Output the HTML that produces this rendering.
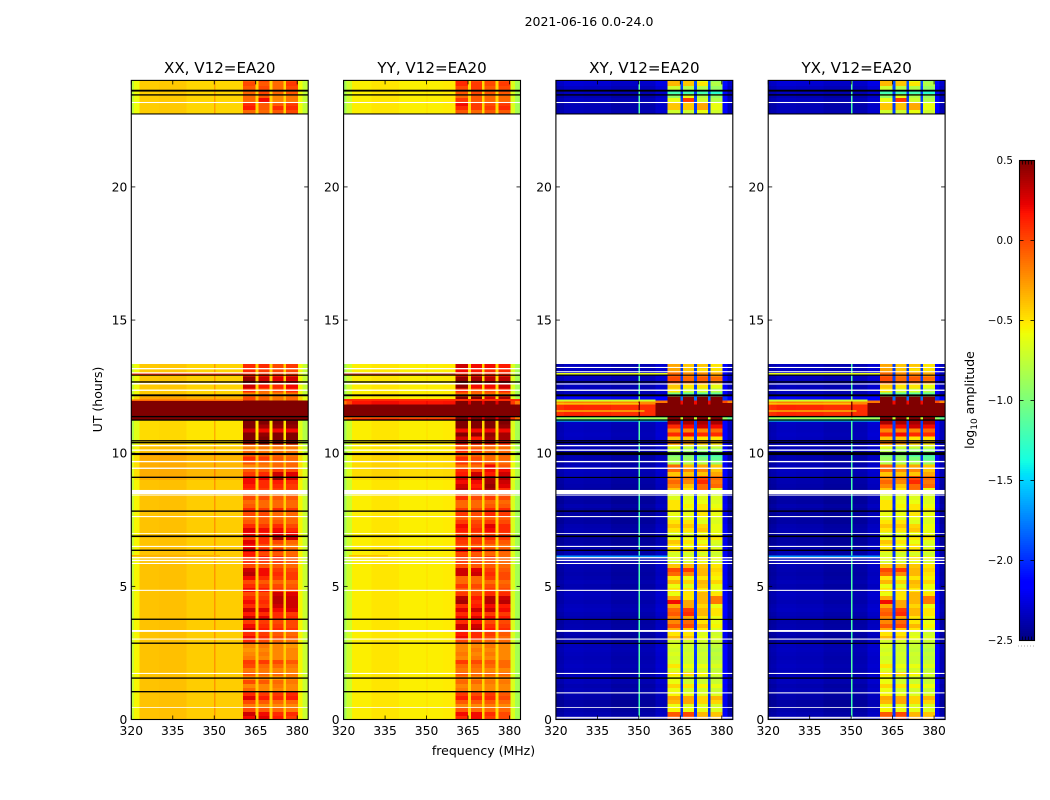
<!DOCTYPE html>
<html lang="en">
<head>
<meta charset="utf-8">
<title>2021-06-16 0.0-24.0</title>
<style>
html,body{margin:0;padding:0;background:#fff;}
svg{display:block;}
text{font-family:"DejaVu Sans","Liberation Sans",sans-serif;fill:#000;}
</style>
</head>
<body>
<svg id="figure" width="1050" height="800" viewBox="0 0 1050 800" xmlns="http://www.w3.org/2000/svg">
  <rect x="0" y="0" width="1050" height="800" fill="#ffffff"/>
  <text x="589" y="26" font-size="12.5" text-anchor="middle">2021-06-16 0.0-24.0</text>
  <text x="483.5" y="755" font-size="12.5" text-anchor="middle">frequency (MHz)</text>
  <text x="0" y="0" font-size="12.5" text-anchor="middle" transform="translate(102,399.5) rotate(-90)">UT (hours)</text>
  <text x="0" y="0" font-size="12.5" text-anchor="middle" transform="translate(974,400) rotate(-90)">log<tspan dy="3" font-size="9">10</tspan><tspan dy="-3"> amplitude</tspan></text>
  <g id="panels"></g>
  <g id="colorbar"></g>
</svg>
<script>
const freqTicks = [320,335,350,365,380];
const timeTicks = [0,5,10,15,20];
const colorTicks = [-2.5,-2,-1.5,-1,-0.5,0,0.5];
const colorTickLabels = ['\u22122.5','\u22122.0','\u22121.5','\u22121.0','\u22120.5','0.0','0.5'];
const freqEdges = [320,321,323,330,340,349.9,350.4,356,360.4,365,366,370,371,375,376,380.3,382,384];
const rowStarts = [
0,.15,.3,.45,.6,.75,.9,1.05,1.2,1.35,
1.5,1.65,1.8,1.95,2.1,2.25,2.4,2.55,2.7,2.85,
3,3.15,3.3,3.45,3.6,3.75,3.9,4.05,4.2,4.35,
4.5,4.65,4.8,4.95,5.1,5.25,5.4,5.55,5.7,5.85,
6,6.15,6.3,6.45,6.6,6.75,6.9,7.05,7.2,7.35,
7.5,7.65,7.8,7.95,8.1,8.25,8.4,8.55,8.7,8.85,
9,9.15,9.3,9.45,9.6,9.75,9.9,10.05,10.2,10.35,
10.5,10.65,10.8,10.95,11.1,11.25,11.4,11.55,11.7,11.85,
12,12.15,12.3,12.45,12.6,12.75,12.9,13.05,13.2,22.75,
22.9,23.05,23.2,23.35,23.5,23.65,23.8,23.95];

// Off-band levels per frequency column (null = one of the four signal bands)
const xxOffBand = [-.72,-.55,-.39,-.38,-.42,-.25,-.42,-.42,null,-.42,null,-.42,null,-.42,null,-.55,-.72];
const yyOffBand = [-.85,-.7,-.53,-.5,-.53,-.47,-.53,-.52,null,-.46,null,-.46,null,-.46,null,-.65,-.85];
const xyOffBand = [-2.44,-2.42,-2.38,-2.39,-2.42,-1.2,-2.41,-2.34,null,-2,null,-2,null,-2,null,-2.2,-2.4];
const yxOffBand = [-2.44,-2.42,-2.38,-2.39,-2.42,-1.2,-2.41,-2.34,null,-2,null,-2,null,-2,null,-2.2,-2.4];

const xxLevel = [
0,0,0,0,0,0,0,0,0,0,
0,0,0,0,0,0,0,0,0,0,
0,0,0,0,0,0,0,0,0,0,
0,0,0,0,0,0,0,0,0,0,
0,0,0,0,0,0,0,0,0,0,
0,0,0,0,0,0,0,0,0,0,
.07,.07,.07,.07,.07,.07,.07,0,0,-.08,
-.08,-.08,-.08,-.08,-.08,1.4,1.4,1.4,1.4,1.4,
.1,-.02,-.02,-.02,-.02,-.02,-.02,-.02,-.02,-.03,
-.03,-.03,-.03,-.03,-.03,-.03,-.03,-.03];
const yyLevel = [
0,0,0,0,0,0,0,0,0,0,
0,0,0,0,0,0,0,0,0,0,
0,0,0,0,0,0,0,0,0,0,
0,0,0,0,0,0,0,0,0,0,
0,0,0,0,0,0,0,0,0,0,
0,0,0,0,0,0,0,0,0,0,
.06,.06,.06,.06,.06,.06,.06,0,0,0,
0,0,0,0,0,.7,1.5,1.5,1.5,.7,
0,0,0,0,0,0,0,0,0,0,
0,0,0,0,0,0,0,0];
const xyLevel = [
.02,.02,0,-.02,-.02,0,.01,.03,.01,.04,
.05,.03,.04,.05,.04,.03,.04,.05,.04,0,
-.02,.01,.02,.01,0,.01,.03,.05,.04,.02,
.04,.05,.02,.01,.03,.01,0,.01,.02,.04,
.02,.01,.02,0,-.02,-.02,.01,.02,.01,-.02,
-.02,-.02,-.02,.01,-.02,-.02,-.02,-.02,0,.01,
.02,.04,.05,.04,.01,.01,.02,.02,.02,.04,
.05,.06,.05,.05,.06,1.3,2.5,2.5,2.5,2.2,
.2,.05,.04,.05,.06,.05,.06,.05,.05,.05,
.03,.03,.05,.02,.04,.06,.1,.12];
const yxLevel = xyLevel.slice();

const xxBand1 = [
.2,.3,0,-.15,0,.25,.1,-.1,-.2,0,
-.2,-.05,-.15,0,.05,-.15,-.2,-.25,-.2,.1,
.2,.1,.3,.2,.05,.3,.15,.3,.1,.2,
.1,0,.2,.1,0,.2,.35,.3,0,.1,
.1,.15,.3,.2,.25,.05,.2,.25,.1,-.05,
-.1,0,.1,-.05,-.1,0,-.1,.1,.15,.2,
.2,.05,-.05,-.2,-.05,.1,-.1,-.1,-.2,.4,
.5,.5,.3,.5,.5,.6,.6,.6,.6,.6,
0,-.2,.1,.3,.45,.45,.1,.1,.1,-.1,
.15,.1,-.1,-.1,-.1,-.05,0,-.05];
const xxBand2 = [
.25,.2,-.05,-.2,-.05,.15,.05,-.2,-.2,-.05,
-.2,-.1,-.15,-.1,.05,-.2,-.15,-.2,-.15,0,
.1,.05,.15,.1,.05,.25,.1,.25,.05,.1,
.05,0,.15,.05,-.05,.1,.2,.2,-.05,.05,
.15,0,.1,0,.1,.1,.15,.2,.05,-.05,
-.05,0,.05,-.1,-.1,0,-.1,.05,.1,.1,
.25,.1,-.05,-.15,-.1,.05,-.1,-.15,-.15,.5,
.5,.45,.2,.4,.5,.6,.6,.6,.6,.6,
-.1,-.15,-.1,.15,.3,.3,.1,.05,.1,-.1,
-.05,-.05,.2,-.05,0,0,-.05,0];
const xxBand3 = [
.15,.1,-.1,-.2,-.1,.1,.05,-.2,-.15,-.1,
-.25,-.1,-.2,-.1,0,-.2,-.2,-.2,-.2,-.1,
0,-.05,.1,.05,0,.1,.1,.2,.3,.35,
.35,.3,.05,0,-.1,.05,.1,.05,-.05,.05,
.1,-.05,.05,-.1,0,.4,.25,.2,.1,-.05,
-.1,-.1,.1,-.1,-.1,-.05,-.15,.05,.1,.15,
.45,.3,.05,-.1,-.1,-.05,-.1,-.15,-.15,.45,
.5,.5,.2,.45,.5,.6,.6,.6,.6,.6,
-.15,-.2,0,.1,.2,.25,.05,0,0,-.05,
.1,-.05,-.2,-.2,-.1,-.1,-.1,-.1];
const xxBand4 = [
.05,.1,-.15,-.2,-.1,.15,.1,-.2,-.2,-.15,
-.2,-.15,-.2,-.15,-.05,-.2,-.2,-.2,-.25,-.15,
-.05,-.1,.05,0,0,.1,.05,.25,.3,.3,
.3,.25,0,-.05,-.1,.05,.05,0,-.1,-.05,
-.05,-.1,-.1,-.15,-.1,.3,.2,.1,0,-.1,
-.1,-.1,.05,-.1,-.1,-.05,-.1,.05,.05,.1,
.3,.25,0,-.1,-.1,-.1,-.15,-.15,-.15,.45,
.5,.5,.2,.45,.5,.6,.6,.6,.6,.6,
-.1,-.15,.1,.2,.2,.3,.05,0,.05,0,
.1,.05,-.15,-.15,-.05,0,.05,0];

const yyBand1 = [
.1,.2,-.05,-.2,-.05,.15,.05,-.15,-.2,-.1,
-.15,-.05,-.15,-.1,.05,-.2,-.15,-.2,-.2,0,
.2,.15,.3,.3,.1,.2,.1,.25,.1,.4,
.35,.05,-.05,.05,-.1,-.1,.3,.3,0,.05,
.05,0,.2,0,.05,.1,.05,.15,.2,.05,
-.05,.05,.05,-.1,-.1,.1,-.05,.35,.3,.2,
.3,.15,.1,-.1,.05,.1,-.1,.1,-.05,.3,
.3,.5,.2,.5,.5,.6,.6,.6,.6,.6,
.5,-.1,.1,.45,.5,.45,.1,.2,.3,-.05,
.1,.2,.05,-.1,-.05,0,.1,.1];
const yyBand2 = [
.2,.2,-.1,-.2,-.05,.1,0,-.2,-.2,-.1,
-.2,-.1,-.15,-.1,0,-.15,-.2,-.15,-.2,-.05,
.1,.1,.35,.3,.15,.25,.15,.3,.15,.1,
.15,0,-.05,0,-.1,-.1,.3,.25,-.05,0,
0,-.05,.15,-.05,.05,.05,0,.1,.05,0,
-.1,0,0,-.1,-.1,0,-.1,.2,.15,.2,
.4,.3,.05,-.1,0,0,-.1,.05,-.1,.3,
.15,.45,.2,.5,.5,.6,.6,.6,.6,.6,
.5,-.1,-.05,.2,.45,.4,.1,.15,.2,-.1,
.05,.05,-.05,-.05,0,.05,.05,0];
const yyBand3 = [
.05,.1,-.1,-.15,-.05,.1,.05,-.2,-.2,-.15,
-.2,-.1,-.2,-.1,-.05,-.2,-.15,-.2,-.15,-.1,
0,.05,.15,.1,0,.2,.05,.3,.2,.35,
.35,.1,.05,0,-.1,.05,.1,.05,-.05,-.05,
.05,-.1,0,-.1,0,.1,.05,.2,.25,.05,
-.05,.1,.1,-.05,-.1,.05,-.05,.4,.45,.4,
.4,.15,.2,.2,-.05,-.1,-.1,-.1,-.1,.3,
.4,.45,.2,.5,.5,.6,.6,.6,.6,.6,
.3,-.1,0,.2,.3,.35,.1,.1,.2,-.05,
.05,0,-.1,-.1,-.05,-.05,0,0];
const yyBand4 = [
0,0,-.1,-.2,-.1,0,-.05,-.2,-.2,-.15,
-.2,-.1,-.2,-.1,-.1,-.2,-.2,-.2,-.2,-.1,
-.1,-.05,.1,.05,0,.15,.05,.2,.15,.35,
.3,.1,0,-.05,-.1,0,0,-.05,-.1,-.1,
-.1,-.1,-.05,-.1,-.05,.05,.05,.1,.1,0,
-.05,.05,.1,-.05,-.1,0,-.05,.1,.25,.3,
.4,.3,.2,-.05,-.1,-.1,-.1,-.1,-.1,.15,
.4,.4,.2,.45,.5,.6,.6,.6,.6,.6,
.4,-.1,.1,.3,.35,.35,.1,.1,.15,-.05,
.1,.05,-.1,-.1,-.05,0,.05,0];

const xyBand1 = [
-.05,-.05,-.55,-.6,-.35,-.3,-.55,-.6,-.45,-.6,
-.6,-.5,-.65,-.5,-.65,-.7,-.65,-.7,-.65,-.68,
-.35,-.5,-.3,-.05,-.2,-.2,-.05,-.1,-.3,.2,
-.3,-.6,-.5,-.6,-.35,-.5,-.1,0,-.4,-.68,
-.6,-.68,-.5,-.5,-.4,-.6,-.65,-.5,-.4,-.5,
-.65,-.6,-.5,-.5,-.5,-.65,-.65,-.4,-.2,-.1,
-.2,-.4,-.1,-.1,-.8,-.9,-1,-.8,-.6,-.1,
-.4,.1,-.2,.1,.4,.6,.6,.6,.6,.6,
.5,-1,-.5,-.4,0,0,-.1,-.3,-.3,-.7,
-.4,-.4,-.6,-.9,-1.2,-.7,-.35,-.35];
const xyBand2 = [
0,0,-.6,-.65,-.3,-.3,-.6,-.7,-.5,-.7,
-.7,-.45,-.7,-.6,-.7,-.7,-.68,-.72,-.7,-.68,
-.4,-.5,-.4,0,-.1,-.3,.1,.05,-.3,-.3,
-.5,-.5,-.5,-.65,-.45,-.6,-.2,.05,-.35,-.68,
-.62,-.7,-.5,-.6,-.5,-.6,-.65,-.5,-.4,-.5,
-.65,-.6,-.6,-.55,-.6,-.65,-.65,-.5,-.4,-.2,
-.15,-.4,-.2,-.35,-.8,-.9,-1,-.9,-.7,-.2,
-.4,.2,-.2,.2,.4,.6,.6,.6,.6,.6,
.5,-1.1,-.7,-.5,-.1,-.1,-.2,-.4,-.4,-.7,
-.4,-.4,.05,-.6,-1.2,-.8,-.4,-.4];
const xyBand3 = [
-.3,-.35,-.62,-.65,-.45,-.45,-.65,-.7,-.55,-.72,
-.7,-.55,-.7,-.6,-.72,-.72,-.7,-.75,-.72,-.7,
-.6,-.65,-.5,-.35,-.5,-.5,-.35,-.35,-.45,-.35,
-.35,-.35,-.5,-.4,-.35,-.5,-.35,-.35,-.4,-.6,
-.5,-.68,-.5,-.5,-.6,-.5,-.6,-.4,-.45,-.65,
-.6,-.5,-.5,-.5,-.6,-.65,-.6,-.1,-.1,.1,
0,-.4,-.2,-.3,-.8,-1,-1.2,-.95,-.7,-.3,
-.5,.1,-.2,.3,.4,.6,.6,.6,.6,.6,
.5,-1.1,-.7,-.5,-.1,-.05,-.2,-.5,-.4,-.6,
-.3,-.3,-.7,-.8,-1.2,-.8,-.5,-.6];
const xyBand4 = [
-.35,-.4,-.65,-.68,-.45,-.35,-.65,-.72,-.6,-.72,
-.75,-.68,-.75,-.65,-.72,-.78,-.75,-.8,-.75,-.72,
-.65,-.7,-.65,-.55,-.6,-.6,-.5,-.5,-.6,-.15,
-.15,-.5,-.6,-.6,-.45,-.55,-.5,-.45,-.5,-.7,
-.6,-.72,-.6,-.7,-.65,-.5,-.6,-.6,-.6,-.65,
-.65,-.6,-.55,-.6,-.65,-.65,-.7,-.6,-.1,-.15,
-.1,-.3,-.4,-.4,-.9,-1.1,-1.2,-.95,-.7,-.4,
-.5,.1,-.1,.2,.4,.6,.6,.6,.6,.6,
.5,-1.1,-.8,-.6,-.2,-.1,-.3,-.5,-.5,-.7,
-.6,-.6,-.8,-.9,-1.3,-.9,-.8,-.9];
const yxBand1 = xyBand1.slice();
const yxBand2 = xyBand2.slice();
const yxBand3 = xyBand3.slice();
const yxBand4 = xyBand4.slice();

// Thin features: [hour start, hour end, log amplitude, freq start, freq end]
const xxStreaks = [[12.95,12.99,.2,320,360.4],[11.97,12.02,-.1,320,360.4],[6.13,6.18,-.33,320,352]];
const yyStreaks = [[12.95,12.99,.4,320,360.4],[11.97,12.03,.1,320,384],[11.3,11.37,-.1,320,360.4],[6.13,6.18,-.38,322,336]];
const xyStreaks = [[12.96,13.02,-.6,320,360.4],[11.95,12.01,-.7,320,356],[11.2,11.26,-1.4,320,360.4],[11.28,11.34,-.85,320,360.4],[11.82,11.87,-.55,320,350],[11.56,11.6,-.55,320,352],[11.36,11.88,.6,356,360.4],[11.36,11.88,.6,380.3,384],[6.11,6.16,-1.7,320,360.4]];
const yxStreaks = xyStreaks.map(function(s){return s.slice();});

// Flagged time intervals, in hours
const parallelWhite = [[13.15,13.2],[12.99,13.04],[12.58,12.64],[12.34,12.39],[10.26,10.31],[10.09,10.14],[9.66,9.71],[9.41,9.46],[8.46,8.62],[8.41,8.44],[7.6,7.64],[6.97,7],[6.48,6.52],[6.05,6.1],[5.95,6],[5.84,5.88],[4.83,4.87],[3.29,3.36],[3,3.04],[1.71,1.75],[.44,.47],[23.15,23.19]];
const parallelBlack = [[12.91,12.95],[12.65,12.7],[12.14,12.21],[11.35,11.4],[11.22,11.27],[10.44,10.49],[10.37,10.42],[9.93,10.01],[9.07,9.12],[7.8,7.85],[6.85,6.91],[6.33,6.38],[3.74,3.79],[2.84,2.89],[1.53,1.58],[1.02,1.07],[23.58,23.65],[23.43,23.48],[22.72,22.76]];
const crossWhite = [[13.2,13.24],[13.04,13.08],[12.58,12.62],[12.34,12.39],[10.26,10.31],[10.09,10.14],[9.66,9.71],[9.41,9.46],[8.46,8.62],[8.41,8.44],[7.6,7.64],[6.97,7],[6.48,6.52],[6.05,6.1],[5.95,6],[5.84,5.88],[4.83,4.87],[3.29,3.36],[3,3.04],[1.71,1.75],[.98,1.02],[.44,.47],[.06,.1],[0,.04],[23.15,23.19]];
const crossBlack = [[12.91,12.95],[12.65,12.7],[12.14,12.21],[11.35,11.4],[11.22,11.27],[10.44,10.49],[10.37,10.42],[9.93,10.04],[9.07,9.11],[7.8,7.85],[6.85,6.91],[6.33,6.38],[3.74,3.78],[2.84,2.88],[1.53,1.58],[23.58,23.65],[23.43,23.48],[22.72,22.76]];

const panelTitles = ['XX, V12=EA20','YY, V12=EA20','XY, V12=EA20','YX, V12=EA20'];
const panelSlugs = ['xx','yy','xy','yx'];
const offBands = [xxOffBand,yyOffBand,xyOffBand,yxOffBand];
const levels = [xxLevel,yyLevel,xyLevel,yxLevel];
const bandSets = [[xxBand1,xxBand2,xxBand3,xxBand4],[yyBand1,yyBand2,yyBand3,yyBand4],[xyBand1,xyBand2,xyBand3,xyBand4],[yxBand1,yxBand2,yxBand3,yxBand4]];
const streakSets = [xxStreaks,yyStreaks,xyStreaks,yxStreaks];
const whiteSets = [parallelWhite,parallelWhite,crossWhite,crossWhite];
const blackSets = [parallelBlack,parallelBlack,crossBlack,crossBlack];

var NS = 'http://www.w3.org/2000/svg';
var LEFTS = [131.3,343.6,555.9,768.2], AW = 176.9, TOP = 80.4, BOT = 719.5;
var PXMHZ = 2.765, PXHR = (BOT-TOP)/24;
function xAxis(left,f){return left+(f-320)*PXMHZ;}
function yAxis(h){return BOT-h*PXHR;}
function interp(pts,t){
  for(var i=1;i<pts.length;i++){
    if(t<=pts[i][0]){var a=pts[i-1],b=pts[i];return a[1]+(b[1]-a[1])*(t-a[0])/(b[0]-a[0]);}
  }
  return pts[pts.length-1][1];
}
var JR=[[0,0],[.35,0],[.66,1],[.89,1],[1,.5]];
var JG=[[0,0],[.125,0],[.375,1],[.64,1],[.91,0],[1,0]];
var JB=[[0,.5],[.11,1],[.34,1],[.65,0],[1,0]];
function jet(v){
  var t=Math.max(0,Math.min(1,(v+2.5)/3));
  return 'rgb('+Math.round(interp(JR,t)*255)+','+Math.round(interp(JG,t)*255)+','+Math.round(interp(JB,t)*255)+')';
}
function mk(parent,tag,attrs){
  var el=document.createElementNS(NS,tag);
  for(var k in attrs){el.setAttribute(k,attrs[k]);}
  parent.appendChild(el);
  return el;
}
var BANDCOLS=[8,10,12,14];
var panelsG=document.getElementById('panels');
panelTitles.forEach(function(title,p){
  var left=LEFTS[p], slug=panelSlugs[p];
  var g=mk(panelsG,'g',{});
  
  
  var img=mk(g,'g',{'shape-rendering':'crispEdges'});
  
  
  rowStarts.forEach(function(h0,i){
    var h1=Math.min(24,h0+.15);
    for(var c=0;c<freqEdges.length-1;c++){
      var off=offBands[p][c], v;
      if(off===null){v=bandSets[p][BANDCOLS.indexOf(c)][i];}
      else{v=off+levels[p][i];}
      var x0=xAxis(left,freqEdges[c]);
      var x1=Math.min(left+AW,xAxis(left,freqEdges[c+1]));
      var y0=yAxis(h1),y1=yAxis(h0);
      var r=mk(img,'rect',{x:x0.toFixed(2),y:y0.toFixed(2),width:(x1-x0+(c<freqEdges.length-2?.4:0)).toFixed(2),height:(y1-y0+.4).toFixed(2),fill:jet(v)});
      
      
    }
  });
  streakSets[p].forEach(function(s){
    var x0=xAxis(left,s[3]),x1=Math.min(left+AW,xAxis(left,s[4]));
    var st=mk(img,'rect',{x:x0.toFixed(2),y:yAxis(s[1]).toFixed(2),width:(x1-x0).toFixed(2),height:((s[1]-s[0])*PXHR).toFixed(2),fill:jet(s[2])});
    
    
  });
  whiteSets[p].forEach(function(s){
    var w=mk(g,'rect',{x:left,y:yAxis(s[1]).toFixed(2),width:AW,height:((s[1]-s[0])*PXHR).toFixed(2),fill:'#ffffff'});
    
    
  });
  blackSets[p].forEach(function(s){
    var b=mk(g,'rect',{x:left,y:yAxis(s[1]).toFixed(2),width:AW,height:((s[1]-s[0])*PXHR).toFixed(2),fill:'#000000'});
    
    
  });
  var frame=mk(g,'rect',{x:left,y:TOP,width:AW,height:BOT-TOP,fill:'none',stroke:'#000','stroke-width':1.1});
  
  
  var t=mk(g,'text',{x:left+AW/2,y:73,'font-size':15.1,'text-anchor':'middle'});
  t.textContent=title;
  
  
  freqTicks.forEach(function(f){
    var x=xAxis(left,f);
    var t1=mk(g,'line',{x1:x,x2:x,y1:BOT,y2:BOT-4,stroke:'#000','stroke-width':.8});
    
    
    var t2=mk(g,'line',{x1:x,x2:x,y1:TOP,y2:TOP+4,stroke:'#000','stroke-width':.8});
    
    
    var lab=mk(g,'text',{x:x,y:735,'font-size':12.3,'text-anchor':'middle'});
    lab.textContent=String(f);
    
    
  });
  timeTicks.forEach(function(h){
    var y=yAxis(h);
    var t1=mk(g,'line',{x1:left,x2:left+4,y1:y,y2:y,stroke:'#000','stroke-width':.8});
    
    
    var t2=mk(g,'line',{x1:left+AW,x2:left+AW-4,y1:y,y2:y,stroke:'#000','stroke-width':.8});
    
    
    var lab=mk(g,'text',{x:left-4,y:y+4.5,'font-size':12.3,'text-anchor':'end'});
    lab.textContent=String(h);
    
    
  });
});

// Colorbar
var cb=document.getElementById('colorbar');
var CX=1019.5,CW=15,CT=160.5,CB=640.5;
function cbY(v){return CB-(v+2.5)/3*(CB-CT);}
var ramp=mk(cb,'g',{'shape-rendering':'crispEdges'});


for(var s=0;s<240;s++){
  var lo=-2.5+s*3/240, hi=lo+3/240;
  var seg=mk(ramp,'rect',{x:CX,y:cbY(hi).toFixed(2),width:CW,height:(cbY(lo)-cbY(hi)+.4).toFixed(2),fill:jet((lo+hi)/2)});
  
  
}
var cf=mk(cb,'rect',{x:CX,y:CT,width:CW,height:CB-CT,fill:'none',stroke:'#000','stroke-width':1.1});


colorTicks.forEach(function(v,i){
  var y=cbY(v);
  var a=mk(cb,'line',{x1:CX,x2:CX+4,y1:y,y2:y,stroke:'#000','stroke-width':.8});
  
  
  var b=mk(cb,'line',{x1:CX+CW,x2:CX+CW-4,y1:y,y2:y,stroke:'#000','stroke-width':.8});
  
  
  var lab=mk(cb,'text',{x:1013,y:y+3.5,'font-size':10.4,'text-anchor':'end'});
  lab.textContent=colorTickLabels[i];
  
  
});
for(var q=0;q<6;q++){
  var tx=CX+q*3;
  var m1=mk(cb,'line',{x1:tx,x2:tx,y1:CT,y2:CT+4,stroke:'#000','stroke-width':.7});
  
  
  var m2=mk(cb,'line',{x1:tx,x2:tx,y1:CB,y2:CB-4,stroke:'#000','stroke-width':.7});
  
  
}
var dots=mk(cb,'line',{x1:1018,x2:1035,y1:646,y2:646,stroke:'#aaa','stroke-width':1,'stroke-dasharray':'1 2'});


</script>
</body>
</html>
